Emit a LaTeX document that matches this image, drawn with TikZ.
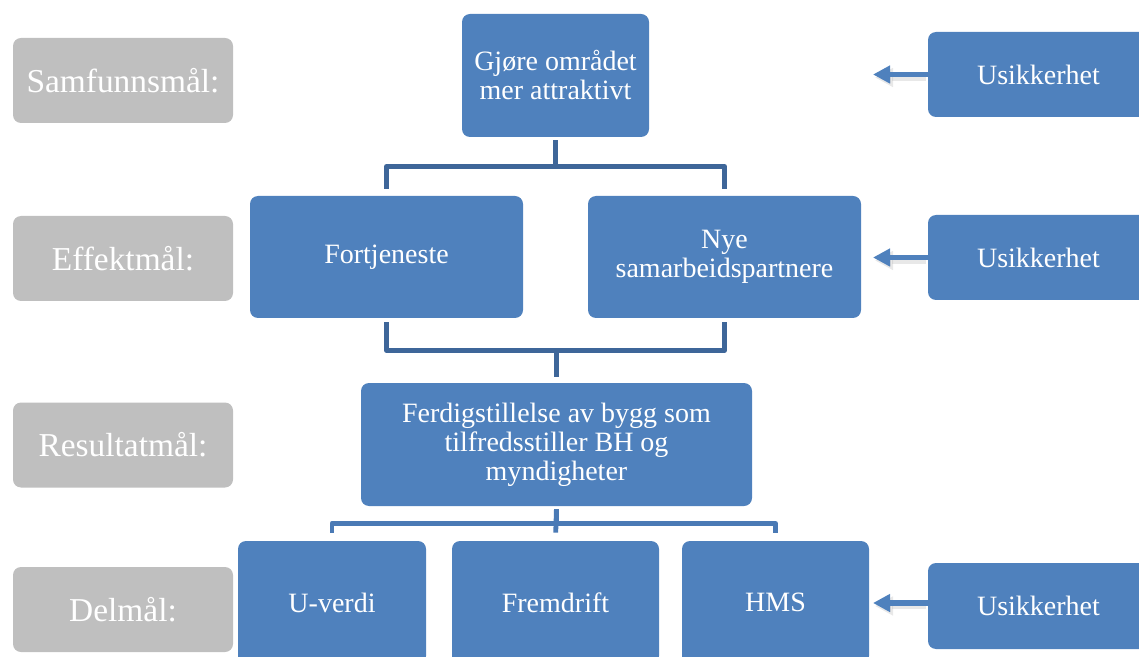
\documentclass[tikz,border=0pt]{standalone}
\usepackage{fontspec}
\setmainfont{Liberation Serif}
\usepackage{tikz}
\tikzset{>=latex}
\usetikzlibrary{arrows.meta}
\definecolor{boxblue}{HTML}{4F81BD}
\definecolor{linkdark}{HTML}{3E6699}
\definecolor{linklight}{HTML}{4A7AB5}
\definecolor{levelgray}{HTML}{BFBFBF}
\tikzset{
	levelbox/.style={rectangle,rounded corners=4pt,fill=levelgray,text=white,minimum width=110pt,minimum height=42.5pt,inner sep=0pt,font=\fontsize{16.7}{20}\selectfont},
	goalbox/.style={rectangle,rounded corners=4pt,fill=boxblue,text=white,inner sep=0pt,align=center,font=\fontsize{14}{14.5}\selectfont},
	riskbox/.style={goalbox,minimum width=110.5pt,minimum height=42.5pt},
	tree/.style={draw=linkdark,line width=2.4pt,line cap=butt},
	riskarrow/.style={draw=boxblue,line width=2.8pt,line cap=butt,-{Triangle[width=8.5pt,length=8.5pt]}},
	riskshadow/.style={draw=black!30,opacity=.3,line width=3.2pt,line cap=butt,-{Triangle[width=9pt,length=9pt]}}
}
\begin{document}
\begin{tikzpicture}[line cap=round,line join=round,x=0.5pt,y=-0.5pt]
		\clip (0,0) rectangle (1139,657);
		% levels
		\node[levelbox] (sam) at (123,80.5) {Samfunnsmål:};
		\node[levelbox] (eff) at (123,258.5) {Effektmål:};
		\node[levelbox] (res) at (123,445) {Resultatmål:};
		\node[levelbox] (del) at (123,609.5) {Delmål:};
		% goals
		\node[goalbox,minimum width=93.5pt,minimum height=61.5pt] (goal) at (555.5,75.5) {Gjøre området\\mer attraktivt};
		\node[goalbox,minimum width=136.5pt,minimum height=61pt] (profit) at (386.5,257) {Fortjeneste};
		\node[goalbox,minimum width=136.5pt,minimum height=61pt] (partner) at (724.5,257) {Nye\\samarbeidspartnere};
		\node[goalbox,minimum width=195.5pt,minimum height=61.5pt] (result) at (556.5,444.5) {Ferdigstillelse av bygg som\\tilfredsstiller BH og\\myndigheter};
		\node[goalbox,minimum width=94pt,minimum height=61.5pt] (uval) at (332,602.5) {U-verdi};
		\node[goalbox,minimum width=103.5pt,minimum height=61.5pt] (progress) at (555.5,602.5) {Fremdrift};
		\node[goalbox,minimum width=93.5pt,minimum height=61.5pt] (hms) at (775.5,602.5) {HMS};
		% tree
		\draw[tree,shorten <=1.5pt,shorten >=3.5pt] (goal.south) -- ++(0,29) -| (profit.north);
		\draw[tree,shorten <=1.5pt,shorten >=3.5pt] (goal.south) -- ++(0,29) -| (partner.north);
		\draw[tree,shorten <=2pt,shorten >=2pt] (profit.south) -- ++(0,32) -| (partner.south);
		\draw[tree,shorten <=3pt] (result.north) -- ++(0,-33);
		\draw[tree,draw=linklight,shorten <=1.5pt,shorten >=4pt] (result.south) -- ++(0,17) -| (uval.north);
		\draw[tree,draw=linklight,shorten <=1.5pt,shorten >=4pt] (result.south) -- ++(0,17) -| (hms.north);
		\draw[tree,draw=linklight,shorten <=1.5pt,shorten >=4pt] (result.south) -- (progress.north);
		% uncertainty
		\coordinate (a1) at (873,74.5);
		\coordinate (a2) at (873,257.5);
		\coordinate (a3) at (873,603);
		\draw[riskshadow] ([shift={(1pt,-1.5pt)}]a1 -| 924,0) -- ([shift={(1pt,-1.5pt)}]a1);
		\draw[riskshadow] ([shift={(1pt,-1.5pt)}]a2 -| 924,0) -- ([shift={(1pt,-1.5pt)}]a2);
		\draw[riskshadow] ([shift={(1pt,-1.5pt)}]a3 -| 924,0) -- ([shift={(1pt,-1.5pt)}]a3);
		\node[riskbox] (u1) at (1038.5,74.5) {Usikkerhet};
		\node[riskbox] (u2) at (1038.5,257.5) {Usikkerhet};
		\node[riskbox,minimum height=43pt] (u3) at (1038.5,606) {Usikkerhet};
		\draw[riskarrow] ([xshift=1pt]u1.west) -- (a1);
		\draw[riskarrow] ([xshift=1pt]u2.west |- a2) -- (a2);
		\draw[riskarrow] ([xshift=1pt]u3.west |- a3) -- (a3);
\end{tikzpicture}
\end{document}
